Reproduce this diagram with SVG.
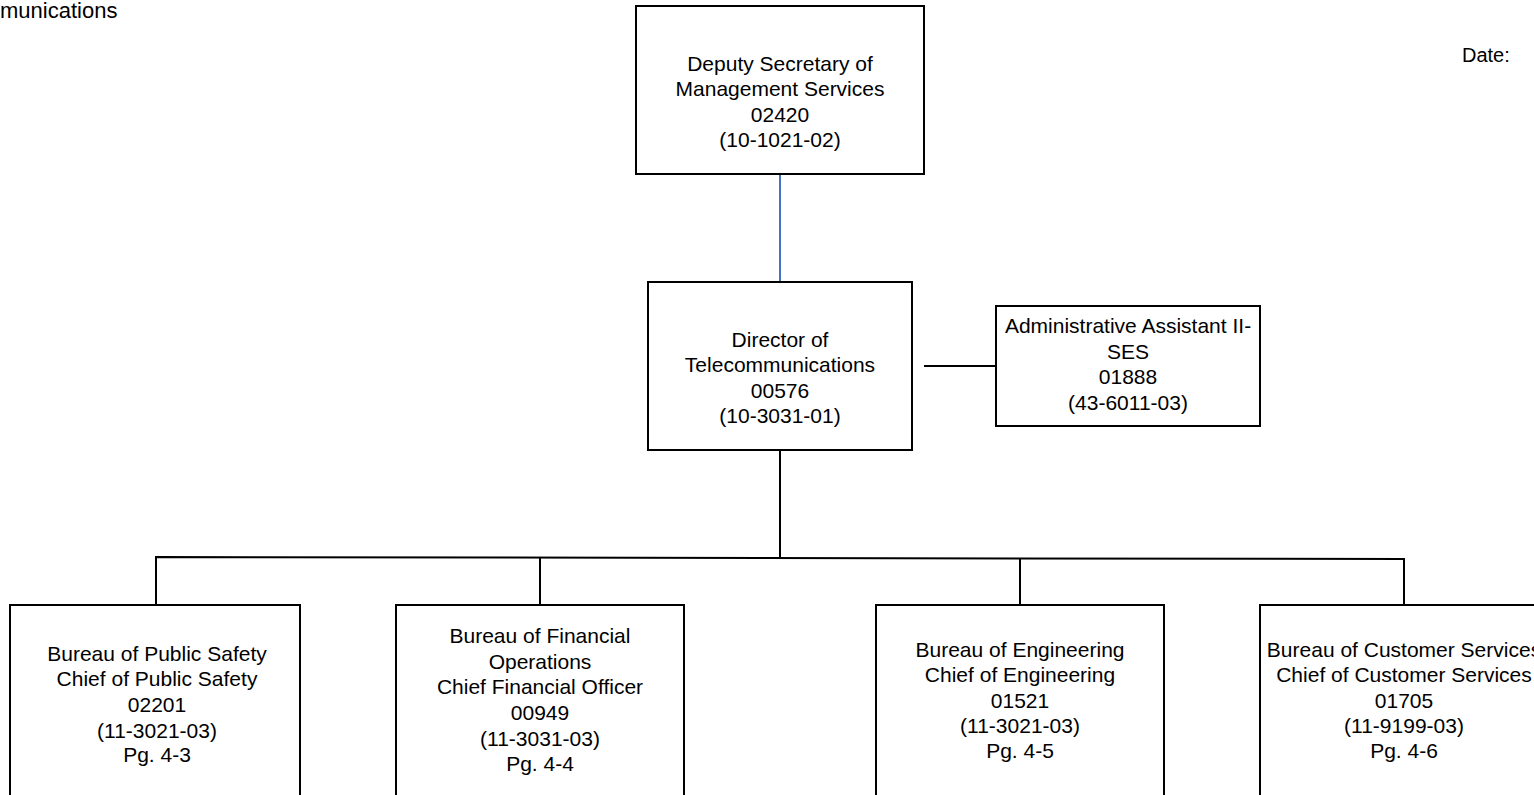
<svg xmlns="http://www.w3.org/2000/svg" width="1534" height="795" viewBox="0 0 1534 795">
  <style>
    .box { fill: #ffffff; stroke: #000000; stroke-width: 2; }
    .lbl { font-family: "Liberation Sans", Arial, sans-serif; font-size: 21px; fill: #000000; text-anchor: middle; }
    .hdr { font-family: "Liberation Sans", Arial, sans-serif; font-size: 20px; fill: #000000; }
    .link { fill: none; stroke: #000000; stroke-width: 2; }
    .link-blue { fill: none; stroke: #4472c4; stroke-width: 2; }
  </style>
  <rect width="1534" height="795" fill="#ffffff"/>

  <!-- page header -->
  <text class="hdr" x="0" y="18" style="font-size:22px">munications</text>
  <text class="hdr" x="1462" y="62">Date:</text>

  <!-- connectors -->
  <g id="connectors">
    <line class="link-blue" x1="780" y1="174" x2="780" y2="282"/>
    <line class="link" x1="924" y1="366" x2="996" y2="366"/>
    <line class="link" x1="780" y1="450" x2="780" y2="558"/>
    <polyline class="link" points="156,605 156,557 1404,559 1404,605"/>
    <line class="link" x1="540" y1="557" x2="540" y2="605"/>
    <line class="link" x1="1020" y1="559" x2="1020" y2="605"/>
  </g>

  <g id="deputy-secretary">
    <rect class="box" x="636" y="6" width="288" height="168"/>
    <text class="lbl" x="780" y="71">Deputy Secretary of</text>
    <text class="lbl" x="780" y="96">Management Services</text>
    <text class="lbl" x="780" y="122">02420</text>
    <text class="lbl" x="780" y="147">(10-1021-02)</text>
  </g>

  <g id="director">
    <rect class="box" x="648" y="282" width="264" height="168"/>
    <text class="lbl" x="780" y="347">Director of</text>
    <text class="lbl" x="780" y="372">Telecommunications</text>
    <text class="lbl" x="780" y="398">00576</text>
    <text class="lbl" x="780" y="423">(10-3031-01)</text>
  </g>

  <g id="admin-assistant">
    <rect class="box" x="996" y="306" width="264" height="120"/>
    <text class="lbl" x="1128" y="333">Administrative Assistant II-</text>
    <text class="lbl" x="1128" y="359">SES</text>
    <text class="lbl" x="1128" y="384">01888</text>
    <text class="lbl" x="1128" y="410">(43-6011-03)</text>
  </g>

  <g id="public-safety">
    <rect class="box" x="10" y="605" width="290" height="200"/>
    <text class="lbl" x="157" y="661">Bureau of Public Safety</text>
    <text class="lbl" x="157" y="686">Chief of Public Safety</text>
    <text class="lbl" x="157" y="712">02201</text>
    <text class="lbl" x="157" y="738">(11-3021-03)</text>
    <text class="lbl" x="157" y="762">Pg. 4-3</text>
  </g>

  <g id="financial-operations">
    <rect class="box" x="396" y="605" width="288" height="200"/>
    <text class="lbl" x="540" y="643">Bureau of Financial</text>
    <text class="lbl" x="540" y="669">Operations</text>
    <text class="lbl" x="540" y="694">Chief Financial Officer</text>
    <text class="lbl" x="540" y="720">00949</text>
    <text class="lbl" x="540" y="746">(11-3031-03)</text>
    <text class="lbl" x="540" y="771">Pg. 4-4</text>
  </g>

  <g id="engineering">
    <rect class="box" x="876" y="605" width="288" height="200"/>
    <text class="lbl" x="1020" y="657">Bureau of Engineering</text>
    <text class="lbl" x="1020" y="682">Chief of Engineering</text>
    <text class="lbl" x="1020" y="708">01521</text>
    <text class="lbl" x="1020" y="733">(11-3021-03)</text>
    <text class="lbl" x="1020" y="758">Pg. 4-5</text>
  </g>

  <g id="customer-services">
    <rect class="box" x="1260" y="605" width="288" height="200"/>
    <text class="lbl" x="1404" y="657">Bureau of Customer Services</text>
    <text class="lbl" x="1404" y="682">Chief of Customer Services</text>
    <text class="lbl" x="1404" y="708">01705</text>
    <text class="lbl" x="1404" y="733">(11-9199-03)</text>
    <text class="lbl" x="1404" y="758">Pg. 4-6</text>
  </g>
</svg>
